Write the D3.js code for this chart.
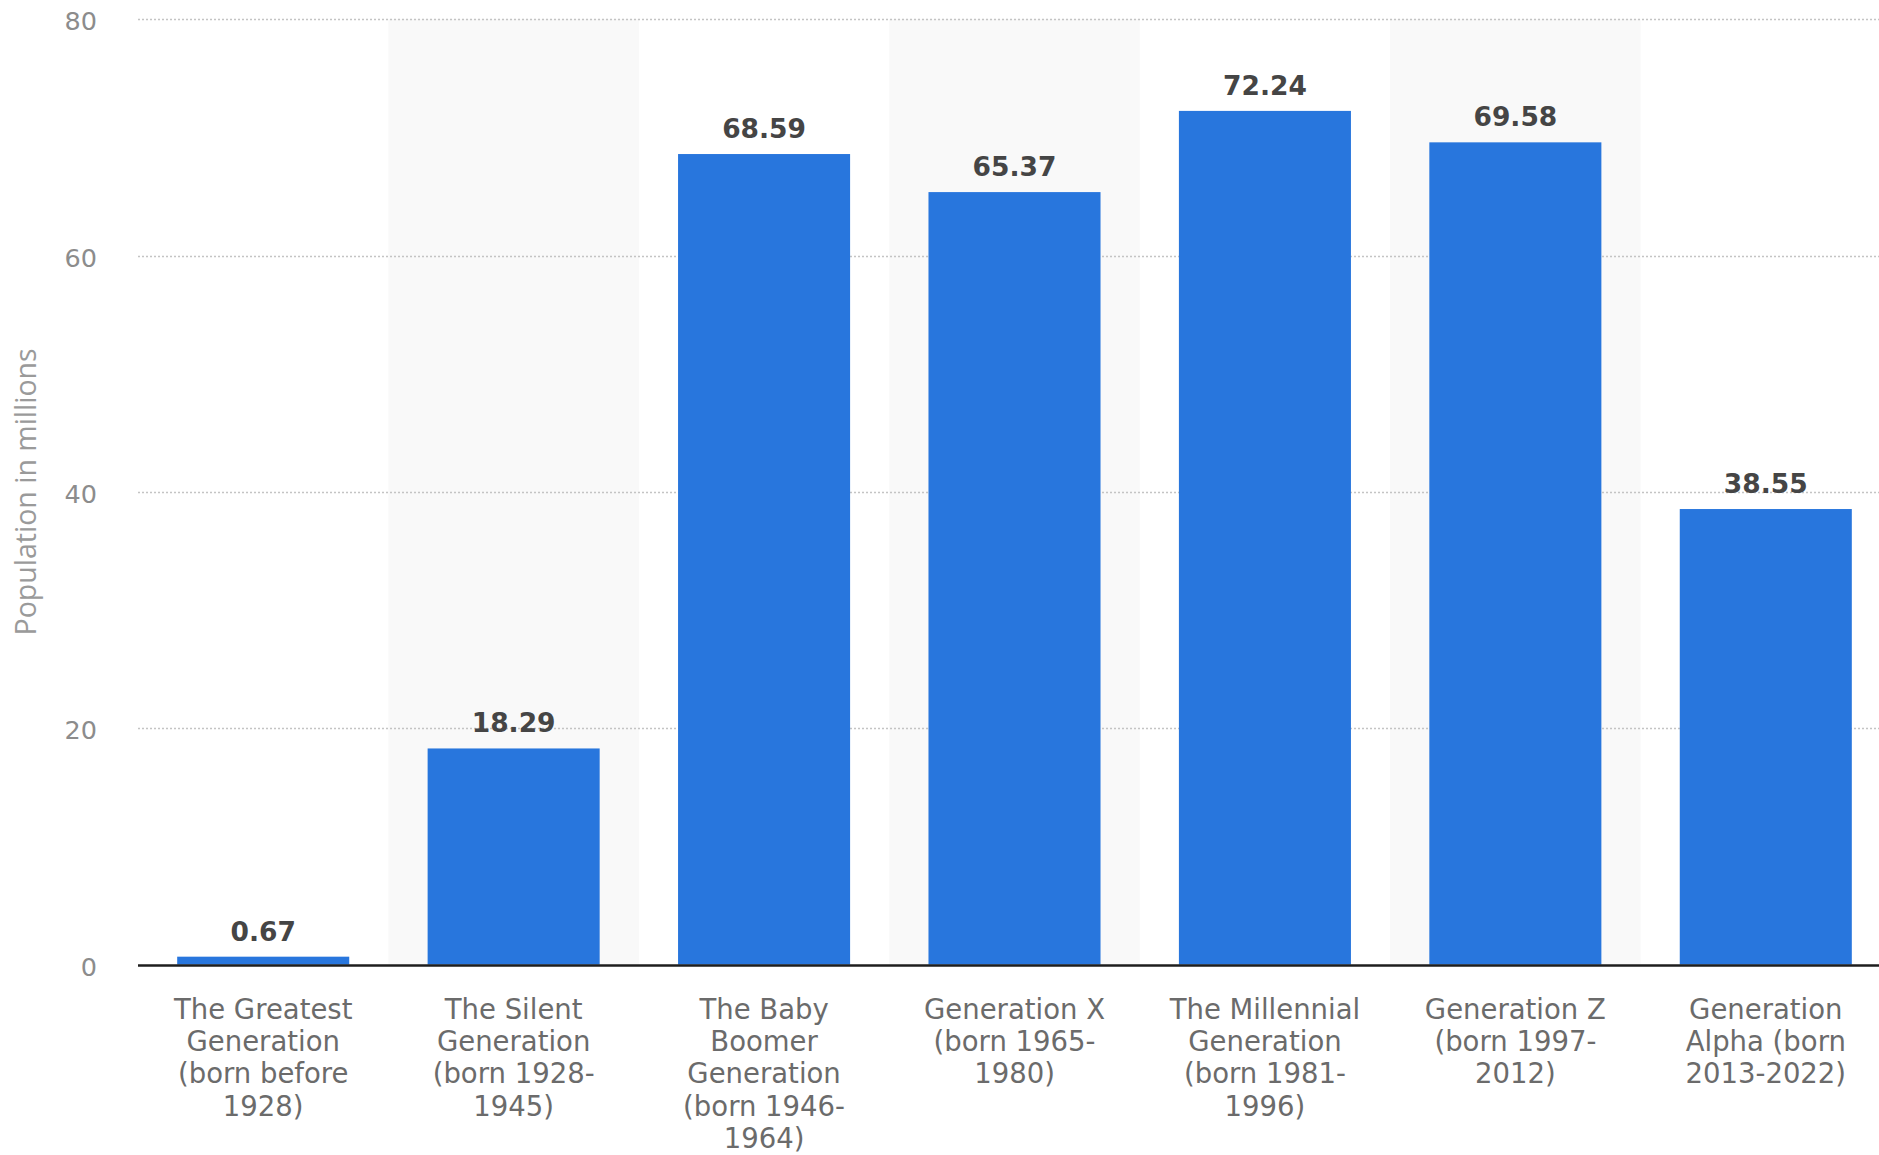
<!DOCTYPE html>
<html>
<head>
<meta charset="utf-8">
<script src="https://cdn.jsdelivr.net/npm/d3@7"></script>
<style>
  html, body { margin: 0; padding: 0; background: #ffffff; }
  svg { display: block; }
</style>
</head>
<body>
<svg id="chart" width="1879" height="1155"></svg>
<script>
// U.S. population by generation, in millions
const categories = [
  "The Greatest Generation (born before 1928)",
  "The Silent Generation (born 1928-1945)",
  "The Baby Boomer Generation (born 1946-1964)",
  "Generation X (born 1965-1980)",
  "The Millennial Generation (born 1981-1996)",
  "Generation Z (born 1997-2012)",
  "Generation Alpha (born 2013-2022)"
];
const population = [0.67, 18.29, 68.59, 65.37, 72.24, 69.58, 38.55];
const yTicks = [0, 20, 40, 60, 80];
const yTitle = "Population in millions";

const W = 1879, H = 1155;
const plot = { left: 138, right: 1891, top: 19.2, bottom: 964.6 };

const svg = d3.select("#chart");

const x = d3.scaleBand()
  .domain(categories)
  .range([plot.left, plot.right])
  .paddingInner(0.313)
  .paddingOuter(0.1565);

const y = d3.scaleLinear()
  .domain([0, 80])
  .range([plot.bottom, plot.top]);

const step = x.step();
const bandStart = d => x(d) - x.paddingInner() * step / 2;

// alternating column shading
svg.append("g")
  .selectAll("rect")
  .data(categories.filter((d, i) => i % 2 === 1))
  .join("rect")
  .attr("x", d => bandStart(d))
  .attr("y", y(80))
  .attr("width", step)
  .attr("height", y(0) - y(80))
  .attr("fill", "#f9f9f9");

// dotted horizontal gridlines
svg.append("g")
  .selectAll("line")
  .data(yTicks.filter(t => t > 0))
  .join("line")
  .attr("x1", plot.left)
  .attr("x2", W)
  .attr("y1", d => Math.round(y(d)) + 0.5)
  .attr("y2", d => Math.round(y(d)) + 0.5)
  .attr("stroke", "#c4c4c4")
  .attr("stroke-width", 1.5)
  .attr("stroke-dasharray", "2,2");

// y axis tick labels
const yAxis = d3.axisLeft(y).tickValues(yTicks).tickSize(0).tickPadding(0);
const yg = svg.append("g")
  .attr("transform", `translate(97,0)`)
  .call(yAxis);
yg.select(".domain").remove();
yg.selectAll("text")
  .attr("font-family", "'DejaVu Sans', sans-serif")
  .attr("font-size", 25.5)
  .attr("fill", "#8c8c8c")
  .attr("dy", "0.42em");

// y axis title
svg.append("text")
  .attr("transform", `translate(36,${(plot.top + plot.bottom) / 2}) rotate(-90)`)
  .attr("text-anchor", "middle")
  .attr("font-family", "'Open Sans', 'DejaVu Sans', sans-serif")
  .attr("font-size", 28.5)
  .attr("fill", "#9a9a9a")
  .text(yTitle);

// bars
svg.append("g")
  .selectAll("rect")
  .data(population)
  .join("rect")
  .attr("x", (d, i) => x(categories[i]))
  .attr("y", d => y(d))
  .attr("width", x.bandwidth())
  .attr("height", d => y(0) - y(d))
  .attr("fill", "#2876dd");

// value labels
svg.append("g")
  .selectAll("text")
  .data(population)
  .join("text")
  .attr("x", (d, i) => x(categories[i]) + x.bandwidth() / 2)
  .attr("y", d => y(d) - 16)
  .attr("text-anchor", "middle")
  .attr("font-family", "'DejaVu Sans', sans-serif")
  .attr("font-weight", "bold")
  .attr("font-size", 26.5)
  .attr("fill", "#454545")
  .text(d => d.toFixed(2));

// baseline axis
svg.append("line")
  .attr("x1", plot.left)
  .attr("x2", W)
  .attr("y1", y(0) + 1)
  .attr("y2", y(0) + 1)
  .attr("stroke", "#1e1e1e")
  .attr("stroke-width", 2.5);

// category labels, wrapped to the column width
const xAxis = d3.axisBottom(x).tickSize(0).tickPadding(0);
const xg = svg.append("g")
  .attr("transform", `translate(0,${y(0)})`)
  .call(xAxis);
xg.select(".domain").remove();

const maxWidth = 226, lineHeight = 32.4, firstBaseline = 54;
xg.selectAll(".tick text")
  .attr("font-family", "'DejaVu Sans', sans-serif")
  .attr("font-size", 27.5)
  .attr("fill", "#6b6b6b")
  .attr("y", firstBaseline)
  .attr("dy", 0)
  .each(function(label) {
    const text = d3.select(this);
    // split after spaces and hyphens
    const tokens = label.match(/[^\s-]+-?/g);
    text.text(null);
    let line = "";
    let lineNo = 0;
    let tspan = text.append("tspan").attr("x", 0).attr("y", firstBaseline);
    tokens.forEach(tok => {
      const joiner = (line === "" || line.endsWith("-")) ? "" : " ";
      const candidate = line + joiner + tok;
      tspan.text(candidate);
      if (tspan.node().getComputedTextLength() > maxWidth && line !== "") {
        tspan.text(line);
        lineNo += 1;
        line = tok;
        tspan = text.append("tspan")
          .attr("x", 0)
          .attr("y", firstBaseline + lineNo * lineHeight)
          .text(tok);
      } else {
        line = candidate;
      }
    });
  });
</script>
</body>
</html>
